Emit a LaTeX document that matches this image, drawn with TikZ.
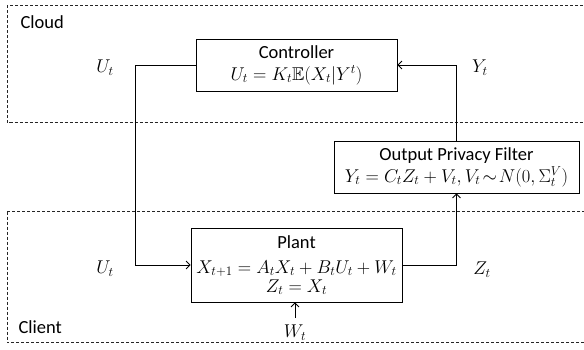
\RequirePackage{fix-cm}
\documentclass[tikz,border=0pt]{standalone}
\usepackage{amsmath}
\usepackage{amssymb}
\usepackage{fontspec}
\setmainfont{Carlito}
\usetikzlibrary{arrows.meta,positioning}

\begin{document}
\begin{tikzpicture}[
    x=1pt, y=-1pt,
    box/.style={draw, align=center, font=\fontsize{18.5}{22}\selectfont,
                inner sep=2pt, line width=0.8pt},
    zone/.style={draw=black!85, dash pattern=on 3pt off 2pt, line width=0.8pt},
    lbl/.style={font=\fontsize{18.5}{22}\selectfont},
    arrow/.style={-{Straight Barb[length=4pt,width=8pt]}, line width=0.8pt}
  ]
    \useasboundingbox (0,0) rectangle (584,349);
    % cloud and client areas
    \draw[zone] (7,5) rectangle (600,122.5);
    \draw[zone] (7,211.5) rectangle (600,342.5);
    \node[lbl, anchor=west] (cloud) at (17,22) {Cloud};
    \node[lbl, anchor=west] (client) at (15,327) {Client};
    % blocks
    \node[box, minimum width=201pt, minimum height=52pt] (ctrl) at (296.5,65)
      {Controller\\ $U_t = K_t\mathbb{E}(X_t|Y^t)$};
    \node[box, minimum width=245pt, minimum height=52pt] (filter) at (456.5,167)
      {Output Privacy Filter\\ $Y_t = C_tZ_t + V_t, V_t\!\sim\!N(0,\Sigma_t^V)$};
    \node[box, minimum width=211pt, minimum height=74pt] (plant) at (296.5,265)
      {Plant\\[3pt] $X_{t+1} = A_tX_t + B_tU_t + W_t$\\[-3pt] $Z_t = X_t$};
    % signal labels
    \node[lbl] (ucloud) at (105,68) {$U_t$};
    \node[lbl] (uclient) at (105,269) {$U_t$};
    \node[lbl] (yt) at (480,68) {$Y_t$};
    \node[lbl] (zt) at (482,270) {$Z_t$};
    \node[lbl, inner sep=1pt] (wt) at (295,333) {$W_t$};
    % connections
    \draw[arrow] (ctrl.west) -- ++(-60,0) |- (plant.west);
    \draw[arrow] (plant.east) -| (filter.south);
    \draw[arrow] (filter.north) |- (ctrl.east);
    \draw[arrow] ([yshift=6pt]wt.north) -- (wt.north |- plant.south);
  \end{tikzpicture}
\end{document}
